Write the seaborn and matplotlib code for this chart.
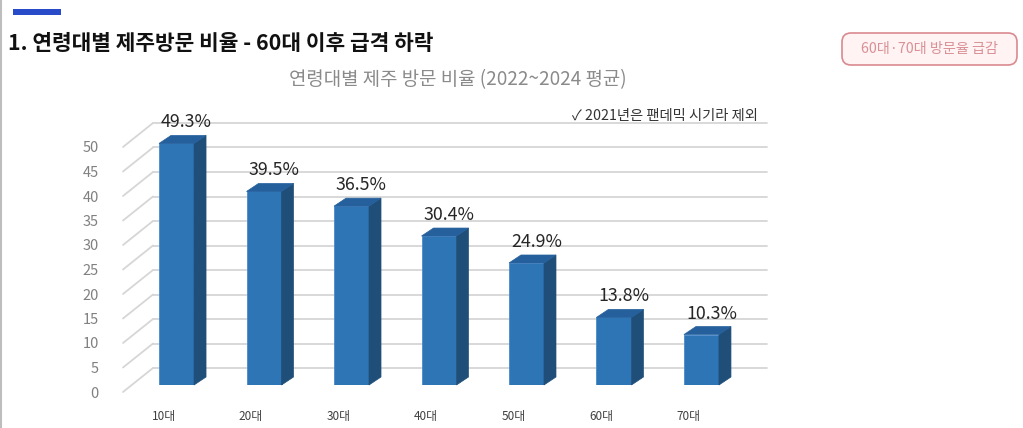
import matplotlib
matplotlib.use("Agg")
import matplotlib.pyplot as plt
import seaborn as sns
import pandas as pd
from matplotlib.patches import Polygon, FancyBboxPatch, Rectangle
from matplotlib.transforms import IdentityTransform, ScaledTranslation
from matplotlib.lines import Line2D

# ---- data ----
ages = ["10대", "20대", "30대", "40대", "50대", "60대", "70대"]
rates = [49.3, 39.5, 36.5, 30.4, 24.9, 13.8, 10.3]
y_ticks = [0, 5, 10, 15, 20, 25, 30, 35, 40, 45, 50]

heading = "1. 연령대별 제주방문 비율 - 60대 이후 급격 하락"
chart_title = "연령대별 제주 방문 비율 (2022~2024 평균)"
note = "✓ 2021년은 팬데믹 시기라 제외"
badge = "60대·70대 방문율 급감"

sns.set_theme(style="white")
FONT = ["Noto Sans CJK KR", "DejaVu Sans"]
plt.rcParams["font.family"] = FONT

W, H = 1023, 428
fig = plt.figure(figsize=(W / 100, H / 100), dpi=100)
fig.patch.set_facecolor("white")

# bar-plane axes (pixel layout)
left_px, right_px, base_px, top_px = 132, 746, 385, 140
ax = fig.add_axes([left_px / W, (H - base_px) / H, (right_px - left_px) / W, (base_px - top_px) / H])
ax.set_facecolor("none")

df = pd.DataFrame({"age": ages, "rate": rates})
FRONT, SIDE, TOP = "#2E75B6", "#1F4E79", "#25609C"
sns.barplot(data=df, x="age", y="rate", color=FRONT, saturation=1, width=0.4, ax=ax, zorder=3)
ax.set_xlim(-0.509, 6.509)
ax.set_ylim(0, 50)
for s in ax.spines.values():
    s.set_visible(False)
ax.set_xlabel("")
ax.set_ylabel("")

fig.canvas.draw()
p0 = ax.transData.transform((0, 0))
p1 = ax.transData.transform((1, 1))
sx, sy = p1[0] - p0[0], p1[1] - p0[1]

# back wall gridlines and left diagonal lines
x_left = ax.get_xlim()[0]
x_right = ax.get_xlim()[1]
wall_dx, wall_dy = 21 / sx, 17 / sy
front_dx, front_dy = -9 / sx, -7 / sy
GRID = "#D6D6D6"
for v in y_ticks:
    ax.plot([x_left + wall_dx, x_right + wall_dx], [v + wall_dy, v + wall_dy],
            color=GRID, lw=1.3, clip_on=False, zorder=1)
    ax.plot([x_left + front_dx, x_left + wall_dx], [v + front_dy, v + wall_dy],
            color=GRID, lw=1.3, clip_on=False, zorder=1)

# 3D faces for bars
ddx, ddy = 12 / sx, 8 / sy
for bar in ax.patches:
    x0 = bar.get_x()
    x1 = x0 + bar.get_width()
    h = bar.get_height()
    bar.set_edgecolor("#4A8ACB")
    bar.set_linewidth(0.6)
    side = Polygon([(x1, 0), (x1, h), (x1 + ddx, h + ddy), (x1 + ddx, ddy)],
                   closed=True, facecolor=SIDE, edgecolor=SIDE, lw=0.5, zorder=3, clip_on=False)
    top = Polygon([(x0, h), (x1, h), (x1 + ddx, h + ddy), (x0 + ddx, h + ddy)],
                  closed=True, facecolor=TOP, edgecolor=TOP, lw=0.5, zorder=3, clip_on=False)
    ax.add_patch(side)
    ax.add_patch(top)
    ax.annotate(f"{h:.1f}%", xy=((x0 + x1) / 2, h), xytext=(10, 21),
                textcoords="offset pixels", ha="center", va="center",
                fontsize=12.8, color="#262626", zorder=5, annotation_clip=False)

# tick labels
ax.set_yticks(y_ticks)
ax.set_yticklabels([str(v) for v in y_ticks])
ax.tick_params(axis="y", length=0, pad=24, labelsize=10.5, labelcolor="#808080")
ax.tick_params(axis="x", length=0, pad=18, labelsize=8.5, labelcolor="#404040")
for lab in ax.get_yticklabels():
    lab.set_transform(lab.get_transform() + ScaledTranslation(0, -7 / 100, fig.dpi_scale_trans))
for lab in ax.get_xticklabels():
    lab.set_transform(lab.get_transform() + ScaledTranslation(-13 / 100, 0, fig.dpi_scale_trans))

# texts
fig.text(8 / W, 1 - 43 / H, heading, fontsize=15.4, fontweight="bold", color="#111111",
         ha="left", va="center", family=FONT)
fig.text(458 / W, 1 - 80 / H, chart_title, fontsize=13.6, color="#8A8A8A",
         ha="center", va="center", family=FONT)
fig.text(758 / W, 1 - 116 / H, note, fontsize=10.3, color="#333333",
         ha="right", va="center", family=FONT)

# top-left blue accent
fig.add_artist(Rectangle((13, H - 15), 48, 6, transform=IdentityTransform(),
                         facecolor="#2A4BC9", edgecolor="none"))
# left edge line
fig.add_artist(Line2D([1, 1], [0, H], transform=IdentityTransform(), color="#BDBDBD", lw=1.5))

# badge
fig.add_artist(FancyBboxPatch((842, H - 65), 175, 32, boxstyle="round,pad=0,rounding_size=9",
                              transform=IdentityTransform(), facecolor="#FFF3F3",
                              edgecolor="#D98A8F", lw=1.2))
fig.text(929.5 / W, 1 - 49 / H, badge, fontsize=10.2, color="#D99095",
         ha="center", va="center", family=FONT)

fig.savefig("out.png", dpi=100)
